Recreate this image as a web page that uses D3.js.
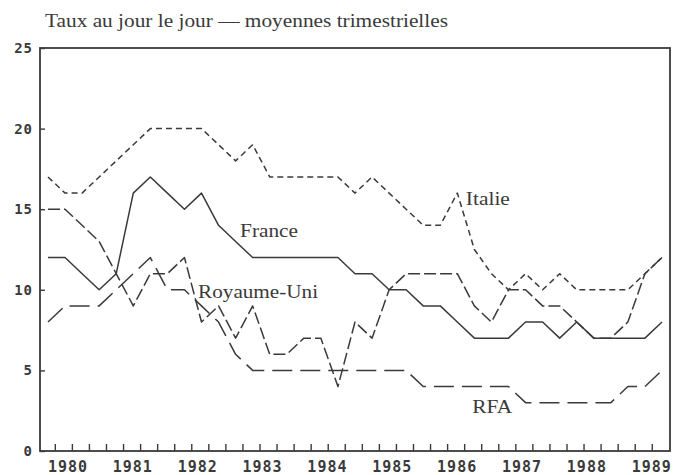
<!DOCTYPE html>
<html><head><meta charset="utf-8">
<script src="https://cdn.jsdelivr.net/npm/d3@7"></script>
<style>
html,body{margin:0;padding:0;background:#fff;}
svg{display:block;}
</style></head>
<body>
<svg id="chart" width="678" height="475"></svg>
<script>
// ---- data ----
const years = [1980,1981,1982,1983,1984,1985,1986,1987,1988,1989];
const quarters = years.flatMap(yr => ["T1","T2","T3","T4"].map(q => yr + " " + q)).slice(0, 37);
const france = [12,12,11,10,11,16,17,16,15,16,14,13,12,12,12,12,12,12,11,11,10,10,9,9,8,7,7,7,8,8,7,8,7,7,7,7,8];
const italie = [17,16,16,17,18,19,20,20,20,20,19,18,19,17,17,17,17,17,16,17,16,15,14,14,16,12.5,11,10,11,10,11,10,10,10,10,11,12];
const royaumeUni = [15,15,14,13,11,9,11,11,12,8,9,7,9,6,6,7,7,4,8,7,10,11,11,11,11,9,8,10,10,9,9,8,7,7,8,11,12];
const rfa = [8,9,9,9,10,11,12,10,10,9,8,6,5,5,5,5,5,5,5,5,5,5,4,4,4,4,4,4,3,3,3,3,3,3,4,4,5];
const yTicks = [0,5,10,15,20,25];
const yearLabels = years.map(String);
const title = "Taux au jour le jour \u2014 moyennes trimestrielles";
const seriesNames = ["France","Italie","Royaume-Uni","RFA"];

// ---- layout ----
const svg = d3.select("#chart");
const plot = {left:40, right:670, top:48, bottom:451};
const x = d3.scaleLinear().domain([0, quarters.length - 1]).range([48, 662]);
const y = d3.scaleLinear().domain([0, 25]).range([plot.bottom, plot.top]);
const yearX = d3.scaleLinear().domain([years[0], years[years.length-1]]).range([x(1.17), x(35.4)]);
const ink = "#3a3a3a";

// title
svg.append("text")
  .attr("x", 45).attr("y", 27)
  .attr("font-family", "'Liberation Serif', 'Times New Roman', serif")
  .attr("font-size", 19)
  .attr("fill", ink)
  .attr("textLength", 403).attr("lengthAdjust", "spacingAndGlyphs")
  .text(title);

// frame
svg.append("rect")
  .attr("x", plot.left).attr("y", plot.top)
  .attr("width", plot.right - plot.left).attr("height", plot.bottom - plot.top)
  .attr("fill", "none").attr("stroke", ink).attr("stroke-width", 1.8);

// y axis
const yAxis = svg.append("g").attr("transform", `translate(${plot.left},0)`)
  .call(d3.axisLeft(y).tickValues(yTicks).tickSize(-5).tickPadding(7).tickFormat(d3.format("d")));
yAxis.select(".domain").remove();
yAxis.selectAll("line").attr("stroke", ink).attr("stroke-width", 1.4);
yAxis.selectAll("text")
  .attr("font-family", "'DejaVu Sans Mono', monospace")
  .attr("font-weight", "bold").attr("font-size", 14)
  .attr("letter-spacing", 1)
  .attr("fill", ink);

// x axis ticks (quarters)
const tickPos = d3.range(quarters.length - 1).map(i => i + 0.4);
const xAxis = svg.append("g").attr("transform", `translate(0,${plot.bottom})`)
  .call(d3.axisBottom(x).tickValues(tickPos).tickSize(-7).tickFormat(""));
xAxis.select(".domain").remove();
xAxis.selectAll("line").attr("stroke", ink).attr("stroke-width", 1.4);

// year labels
svg.append("g").selectAll("text").data(years).join("text")
  .attr("x", d => yearX(d)).attr("y", 472)
  .attr("text-anchor", "middle")
  .attr("font-family", "'DejaVu Sans Mono', monospace")
  .attr("font-weight", "bold").attr("font-size", 15)
  .attr("letter-spacing", 1)
  .attr("fill", ink)
  .text((d, i) => yearLabels[i]);

// series
const series = [
  {name: seriesNames[0], values: france, dash: null},
  {name: seriesNames[1], values: italie, dash: "6,4"},
  {name: seriesNames[2], values: royaumeUni, dash: "12,4"},
  {name: seriesNames[3], values: rfa, dash: "20,8"}
];
const line = d3.line().x((d, i) => x(i)).y(d => y(d));
svg.append("g").selectAll("path").data(series).join("path")
  .attr("d", d => line(d.values))
  .attr("fill", "none")
  .attr("stroke", ink)
  .attr("stroke-width", 1.5)
  .attr("stroke-linejoin", "round")
  .attr("stroke-dasharray", d => d.dash);

// series labels (placed in data coordinates)
const labels = [
  {name: seriesNames[0], q: 11.26, v: 13.3, len: 58},
  {name: seriesNames[1], q: 24.5, v: 15.25, len: 44},
  {name: seriesNames[2], q: 8.8, v: 9.5, len: 120},
  {name: seriesNames[3], q: 24.87, v: 2.35, len: 40}
];
svg.append("g").selectAll("text").data(labels).join("text")
  .attr("x", d => x(d.q)).attr("y", d => y(d.v))
  .attr("font-family", "'Liberation Serif', 'Times New Roman', serif")
  .attr("font-size", 19)
  .attr("fill", ink)
  .attr("textLength", d => d.len).attr("lengthAdjust", "spacingAndGlyphs")
  .text(d => d.name);
</script>
</body></html>
